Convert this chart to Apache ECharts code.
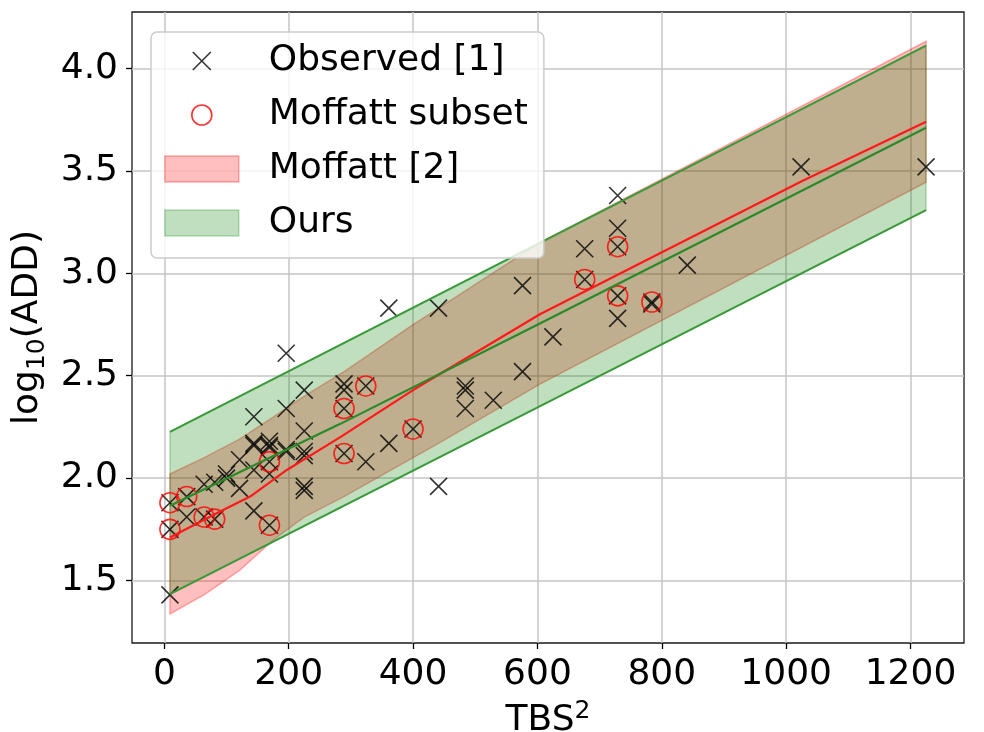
<!DOCTYPE html>
<html>
<head>
<meta charset="utf-8">
<script src="https://cdn.jsdelivr.net/npm/echarts@6/dist/echarts.min.js"></script>
<style>
html,body{margin:0;padding:0;background:#fff;}
#chart{width:984px;height:732px;}
</style>
</head>
<body>
<div id="chart"></div>
<script>
// ---- data ----
const xTicks = [0, 200, 400, 600, 800, 1000, 1200];
const yTicks = [1.5, 2.0, 2.5, 3.0, 3.5, 4.0];

const obsX = [9,9,9,36,36,64,64,81,81,100,100,121,121,144,144,144,144,144,169,169,169,169,169,169,196,196,196,196,225,225,225,225,225,225,289,289,289,289,324,324,361,361,400,441,441,484,484,484,529,576,576,625,676,676,729,729,729,729,729,784,784,841,1024,1225];
const obsY = [1.88,1.75,1.43,1.91,1.81,1.97,1.81,1.98,1.80,2.00,2.02,2.09,1.95,2.30,2.17,2.16,2.04,1.84,2.18,2.16,2.15,2.08,2.02,1.77,2.61,2.34,2.14,2.13,2.43,2.23,2.13,2.11,1.96,1.94,2.46,2.43,2.34,2.12,2.45,2.08,2.83,2.17,2.24,2.83,1.96,2.45,2.43,2.34,2.38,2.94,2.52,2.69,3.12,2.97,3.38,3.22,3.13,2.89,2.78,2.86,2.85,3.04,3.52,3.52];

const mofX = [9,9,36,64,81,169,169,289,289,324,400,676,729,729,784];
const mofY = [1.88,1.75,1.91,1.81,1.80,2.08,1.77,2.34,2.12,2.45,2.24,2.97,3.13,2.89,2.86];

// Moffatt [2] band
const redBandX     = [9, 64, 121, 176, 225, 289, 400, 441, 604, 1225];
const redBandLower = [1.337, 1.43, 1.55, 1.70, 1.81, 1.91, 2.10, 2.17, 2.459, 3.445];
const redBandUpper = [2.02, 2.10, 2.19, 2.30, 2.40, 2.52, 2.75, 2.83, 3.15, 4.133];
const redMeanX = [9, 85, 138, 197, 283, 400, 604, 1025, 1225];
const redMeanY = [1.71, 1.83, 1.91, 2.04, 2.20, 2.43, 2.80, 3.45, 3.74];

// Ours band
const grnBandX     = [9, 1225];
const grnBandLower = [1.434, 3.309];
const grnBandUpper = [2.226, 4.112];
const grnMeanX = [9, 283, 604, 1225];
const grnMeanY = [1.865, 2.265, 2.755, 3.711];

// ---- build ----
const zip2 = (a, b) => a.map((v, i) => [v, b[i]]);
const zip3 = (a, b, c) => a.map((v, i) => [v, b[i], c[i]]);

function bandRender(fill, stroke, lw) {
  return function (params, api) {
    if (params.dataIndex !== 0) return null;
    const n = params.dataInsideLength;
    const up = [], lo = [];
    for (let i = 0; i < n; i++) {
      up.push(api.coord([api.value(0, i), api.value(2, i)]));
      lo.push(api.coord([api.value(0, i), api.value(1, i)]));
    }
    const pts = up.concat(lo.reverse());
    return {
      type: 'polygon',
      shape: { points: pts },
      style: { fill: fill, stroke: stroke, lineWidth: lw }
    };
  };
}

const FONT = 'DejaVu Sans';
const X_ICON_PATH = 'path://M0,0L1,1M1,0L0,1';
const LEG_X = 'path://M0,0M99,26M28,4L46,22M46,4L28,22';
const LEG_O = 'path://M0,0M99,26M47,13A10,10,0,1,1,27,13A10,10,0,1,1,47,13Z';
const LEG_R = 'path://M0,0M99,26M0,0L74,0L74,26L0,26Z';

const redFill = 'rgba(255,0,0,0.25)';
const redEdge = 'rgba(255,0,0,0.3)';
const grnFill = 'rgba(0,128,0,0.25)';
const grnEdge = 'rgba(0,128,0,0.25)';

const chart = echarts.init(document.getElementById('chart'), null, { renderer: 'canvas' });
chart.setOption({
  animation: false,
  backgroundColor: '#fff',
  grid: {
    left: 132, top: 12, width: 832, height: 631,
    outerBoundsMode: 'none', containLabel: false,
    show: true, borderColor: '#1a1a1a', borderWidth: 1.3, backgroundColor: 'transparent'
  },
  xAxis: {
    type: 'value', min: -52, max: 1286,
    name: '{a|TBS}{s|2}', nameLocation: 'middle', nameGap: 56,
    nameTextStyle: {
      rich: {
        a: { fontFamily: FONT, fontSize: 36, color: '#000', lineHeight: 40, verticalAlign: 'bottom' },
        s: { fontFamily: FONT, fontSize: 25, color: '#000', lineHeight: 40, verticalAlign: 'top' }
      }
    },
    axisLine: { show: false, onZero: false },
    axisTick: { show: true, inside: false, length: 6, lineStyle: { color: '#000', width: 1.3 }, customValues: xTicks },
    axisLabel: { fontFamily: FONT, fontSize: 36, color: '#000', margin: 14, customValues: xTicks,
      formatter: v => String(Math.round(v)) },
    splitLine: { show: true, lineStyle: { color: '#c4c4c4', width: 1.5 } }
  },
  yAxis: {
    type: 'value', min: 1.195, max: 4.276,
    name: '{a|log}{b|10}{a|(ADD)}', nameLocation: 'middle', nameGap: 76, nameRotate: 90,
    nameTextStyle: {
      rich: {
        a: { fontFamily: FONT, fontSize: 36, color: '#000', lineHeight: 40, verticalAlign: 'top' },
        b: { fontFamily: FONT, fontSize: 25, color: '#000', lineHeight: 40, verticalAlign: 'bottom' }
      }
    },
    axisLine: { show: false, onZero: false },
    axisTick: { show: true, inside: false, length: 6, lineStyle: { color: '#000', width: 1.3 }, customValues: yTicks },
    axisLabel: {
      fontFamily: FONT, fontSize: 36, color: '#000', margin: 14, customValues: yTicks,
      formatter: v => v.toFixed(1)
    },
    splitLine: { show: true, lineStyle: { color: '#c4c4c4', width: 1.5 } }
  },
  legend: {
    orient: 'vertical', left: 151, top: 32,
    padding: [11, 16, 17, 13], itemGap: 18, itemWidth: 99, itemHeight: 26,
    backgroundColor: 'rgba(255,255,255,0.8)', borderColor: '#cccccc', borderWidth: 1.5, borderRadius: 6,
    selectedMode: false, symbolKeepAspect: true,
    textStyle: { fontFamily: FONT, fontSize: 36, color: '#000', lineHeight: 36 },
    data: [
      { name: 'Observed [1]', icon: LEG_X, itemStyle: { color: 'rgba(0,0,0,0)', borderColor: '#000', borderWidth: 1.6 } },
      { name: 'Moffatt subset', icon: LEG_O, itemStyle: { color: 'rgba(0,0,0,0)', borderColor: '#ff0000', borderWidth: 1.6 } },
      { name: 'Moffatt [2]', icon: LEG_R, itemStyle: { color: redFill, borderColor: redEdge, borderWidth: 1.5 } },
      { name: 'Ours', icon: LEG_R, itemStyle: { color: grnFill, borderColor: grnEdge, borderWidth: 1.5 } }
    ]
  },
  series: [
    {
      name: 'Moffatt [2]', type: 'custom',
      data: zip3(redBandX, redBandLower, redBandUpper),
      encode: { x: 0, y: [1, 2] },
      renderItem: bandRender(redFill, redEdge, 1.5),
      itemStyle: { color: redFill }, silent: true
    },
    {
      name: 'Ours', type: 'custom',
      data: zip3(grnBandX, grnBandLower, grnBandUpper),
      encode: { x: 0, y: [1, 2] },
      renderItem: bandRender(grnFill, grnEdge, 1.5),
      itemStyle: { color: grnFill }, silent: true
    },
    {
      name: 'Ours lower', type: 'line', data: zip2(grnBandX, grnBandLower),
      symbol: 'none', lineStyle: { color: '#3a9a3a', width: 2 }, silent: true
    },
    {
      name: 'Ours upper', type: 'line', data: zip2(grnBandX, grnBandUpper),
      symbol: 'none', lineStyle: { color: '#3a9a3a', width: 2 }, silent: true
    },
    {
      name: 'Moffatt mean', type: 'line', data: zip2(redMeanX, redMeanY),
      symbol: 'none', lineStyle: { color: '#ff1a1a', width: 2.2 }, silent: true
    },
    {
      name: 'Ours mean', type: 'line', data: zip2(grnMeanX, grnMeanY),
      symbol: 'none', lineStyle: { color: '#2a8a2a', width: 2.2 }, silent: true
    },
    {
      name: 'Observed [1]', type: 'scatter', data: zip2(obsX, obsY),
      symbol: X_ICON_PATH, symbolSize: 17,
      itemStyle: { color: 'rgba(0,0,0,0)', borderColor: '#000', borderWidth: 1.6 }, silent: true
    },
    {
      name: 'Moffatt subset', type: 'scatter', data: zip2(mofX, mofY),
      symbol: 'circle', symbolSize: 20,
      itemStyle: { color: 'rgba(0,0,0,0)', borderColor: '#ff0000', borderWidth: 1.6 }, silent: true
    }
  ]
});
</script>
</body>
</html>
